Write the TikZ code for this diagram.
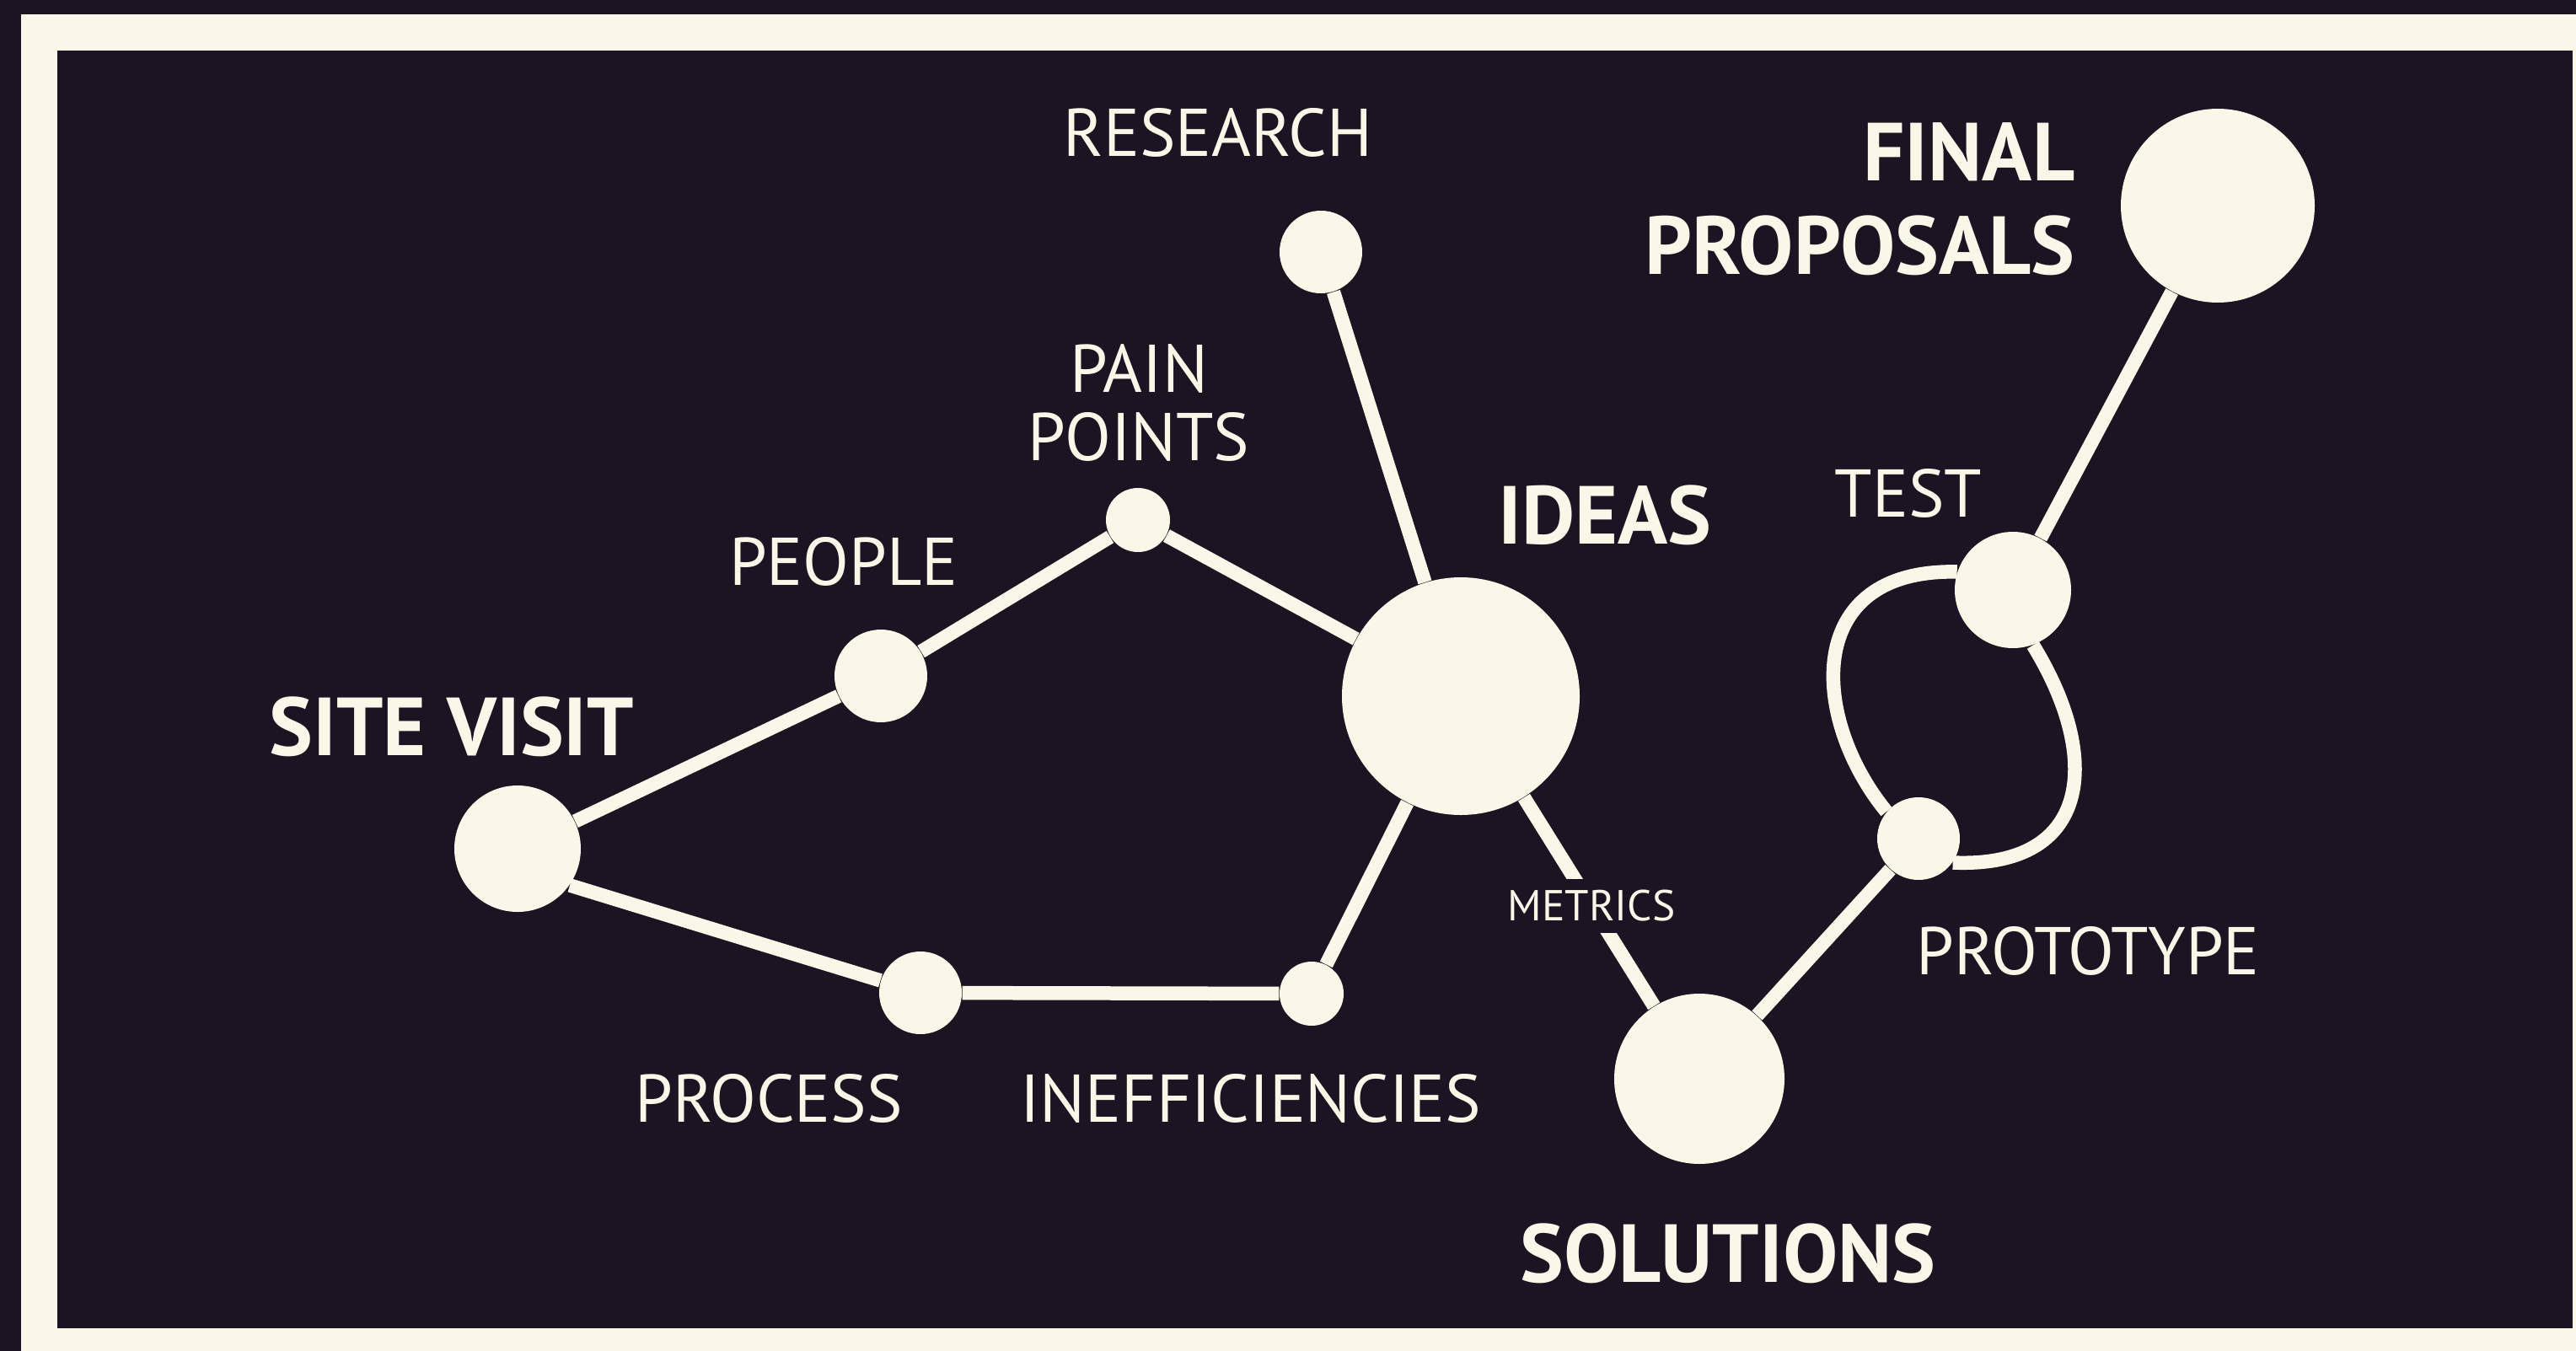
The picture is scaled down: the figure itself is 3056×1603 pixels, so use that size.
\documentclass[tikz,border=0pt]{standalone}
\usepackage{fontspec}
\setmainfont{PT Sans}
\usepackage{xcolor}
\definecolor{ink}{HTML}{1C1422}
\definecolor{cream}{HTML}{FAF7E8}

\begin{document}
\begin{tikzpicture}[x=0.1mm,y=-0.1mm,
  dot/.style={circle, fill=cream, inner sep=0pt},
  edge/.style={cream, line width=1.65mm},
  lbl/.style={text=cream, inner sep=0pt, align=center, font=\fontsize{22.8}{22.8}\selectfont},
  big/.style={text=cream, inner sep=0pt, font=\bfseries\fontsize{27.8}{31.6}\selectfont}]
\useasboundingbox (0,0) rectangle (3056,1603);

% frame
\fill[ink] (0,0) rectangle (3056,1603);
\fill[cream] (25,17) rectangle (3056,1603);
\fill[ink] (68,60) rectangle (3052,1576);

% dots
\node[dot, minimum size=15mm] (site) at (614,1007) {};
\node[dot, minimum size=11mm] (people) at (1045,802) {};
\node[dot, minimum size=7.6mm] (pain) at (1350,617) {};
\node[dot, minimum size=9.8mm] (research) at (1567,299) {};
\node[dot, minimum size=28.2mm] (ideas) at (1733,826) {};
\node[dot, minimum size=9.8mm] (process) at (1092,1178) {};
\node[dot, minimum size=7.6mm] (ineff) at (1556,1179) {};
\node[dot, minimum size=20.2mm] (sol) at (2016,1280) {};
\node[dot, minimum size=9.8mm] (proto) at (2276,995) {};
\node[dot, minimum size=13.8mm] (test) at (2388,700) {};
\node[dot, minimum size=23mm] (final) at (2631,244) {};

% links
\draw[edge] (site) -- (people);
\draw[edge] (people) -- (pain);
\draw[edge] (pain) -- (ideas);
\draw[edge] (research) -- (ideas);
\draw[edge] (site.-35) -- (process);
\draw[edge] (process) -- (ineff);
\draw[edge] (ineff) -- (ideas);
\draw[edge] (ideas) -- node[pos=0.52, fill=ink, text=cream, inner xsep=1mm, inner ysep=1.35mm, font=\fontsize{14.6}{15}\selectfont] (metrics) {METRICS} (sol);
\draw[edge] (sol) -- (proto);
\draw[edge] (test) -- (final);

% loop
\draw[edge] (test.162) .. controls +(-185,-4) and +(-90,-110) .. (proto.140);
\draw[edge] (test.-70) .. controls +(83,135) and +(164,7) .. (proto.-35);

% labels
\node[lbl] (l-research) at (1445,157) {RESEARCH};
\node[lbl] (l-pain) at (1351,478) {PAIN\\POINTS};
\node[lbl] (l-people) at (1001,666) {PEOPLE};
\node[big] (l-site) at (536,862) {SITE VISIT};
\node[big] (l-ideas) at (1904,611) {IDEAS};
\node[lbl] (l-process) at (912,1303) {PROCESS};
\node[lbl] (l-ineff) at (1484,1303) {INEFFICIENCIES};
\node[big] (l-sol) at (2050,1487) {SOLUTIONS};
\node[lbl] (l-proto) at (2477,1128) {PROTOTYPE};
\node[lbl] (l-test) at (2264,585) {TEST};
\node[big, align=right, anchor=east] (l-final) at (2462,236) {FINAL\\PROPOSALS};

\end{tikzpicture}
\end{document}
